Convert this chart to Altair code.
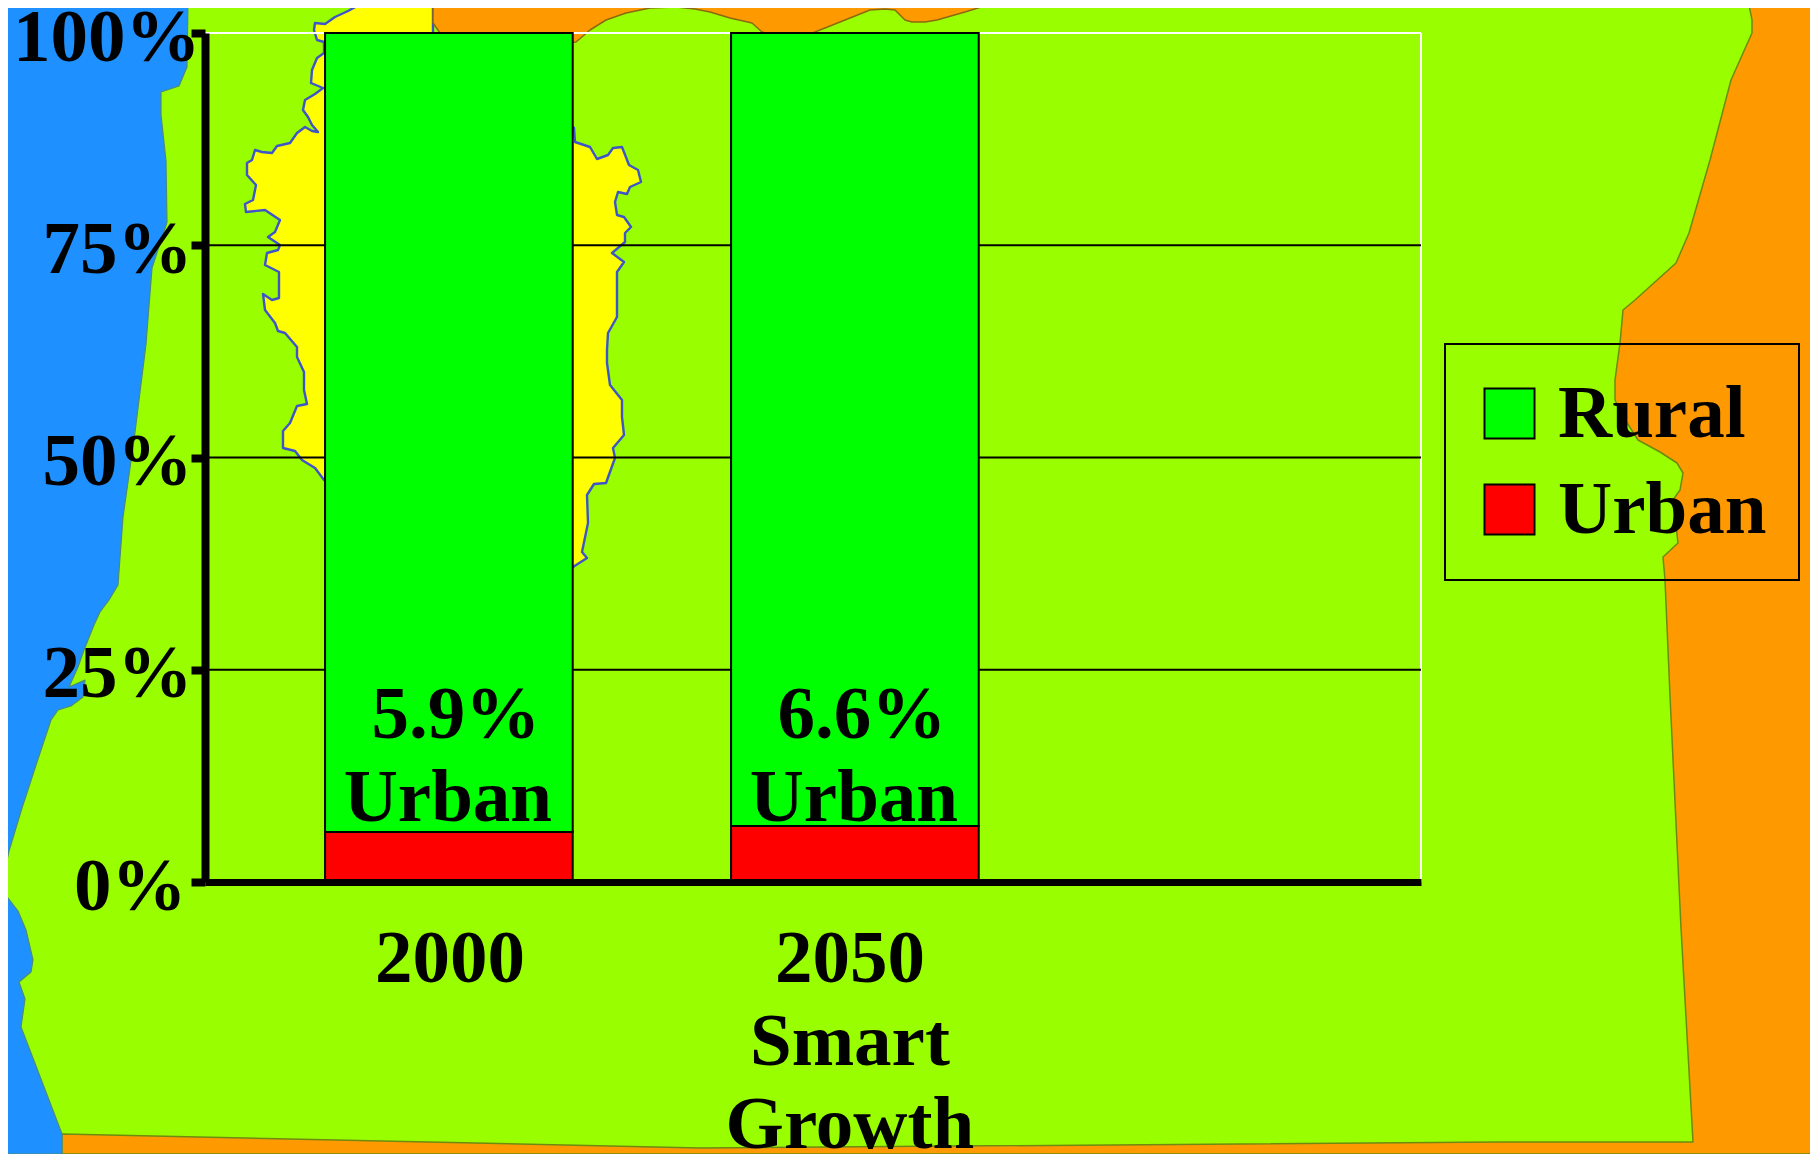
import altair as alt

FONT = "Liberation Serif"
periods = ["2000", "2050|Smart|Growth"]
rural = [94.1, 93.4]
urban = [5.9, 6.6]
pct_labels = ["5.9%", "6.6%"]
line_two = ["Urban", "Urban"]
ticks = [0, 25, 50, 75, 100]
grid_levels = [25, 50, 75]
sectors = ["Rural", "Urban"]
sector_colors = ["#00FF00", "#FF0000"]

sea = [[0,0],[188,0],[187,67],[179,86],[161,92],[161,115],[166,161],[167,222],[152,268],[146,344],[134,440],[123,517],
       [118,585],[109,600],[100,612],[94,625],[84,650],[78,667],[69,687],[85,680],[83,697],[71,706],[58,710],[51,720],
       [38,759],[22,808],[9,851],[3,880],[2,890],[8,898],[18,911],[26,930],[33,960],[31,972],[19,982],[25,999],
       [21,1027],[36,1066],[62,1134],[62,1154],[0,1154],[0,0]]
east = [[1748,0],[1752,20],[1752,33],[1731,80],[1710,160],[1689,233],[1676,263],[1635,300],[1623,310],[1620,343],
        [1615,380],[1615,400],[1622,415],[1638,440],[1660,452],[1677,463],[1683,473],[1680,490],[1673,500],[1678,543],
        [1663,557],[1665,580],[1670,696],[1681,928],[1693,1142],[1500,1142],[700,1148],[62,1134],[62,1154],[1818,1154],
        [1818,0],[1748,0]]
north = [[433,0],[433,23],[440,33],[500,50],[576,42],[590,30],[606,20],[626,13],[650,8],[676,7],[695,9],[710,12],
         [730,18],[752,23],[762,32],[790,40],[815,32],[850,18],[870,10],[885,9],[895,10],[905,20],[912,22],[925,22],
         [937,20],[965,12],[1004,0],[433,0]]
valley = [[368,0],[348,11],[335,17],[325,24],[315,23],[314,30],[317,40],[324,42],[324,53],[317,58],[312,70],[311,83],
          [323,88],[315,94],[305,100],[303,110],[308,117],[312,125],[318,132],[312,131],[305,127],[297,133],[290,143],
          [277,146],[272,153],[262,152],[255,150],[252,160],[247,163],[247,175],[256,185],[253,200],[245,204],[246,212],
          [265,210],[280,220],[275,232],[268,237],[280,245],[278,250],[267,253],[265,265],[279,272],[279,298],[272,300],
          [263,294],[265,310],[275,323],[278,331],[285,333],[297,347],[297,357],[304,372],[304,390],[307,404],[297,406],
          [290,423],[283,431],[283,448],[295,451],[302,460],[315,468],[324,480],[450,560],[573,567],[587,558],[582,552],
          [588,523],[587,495],[594,484],[606,483],[615,458],[613,448],[624,435],[622,417],[622,400],[610,385],[607,363],
          [607,350],[608,333],[617,317],[617,272],[624,262],[612,253],[625,242],[625,233],[631,227],[624,217],[617,215],
          [615,202],[618,192],[627,194],[630,187],[641,182],[638,170],[629,165],[622,147],[613,148],[608,155],[597,159],
          [590,147],[575,142],[574,128],[500,60],[433,33],[433,0],[368,0]]


def region(ring, fill, stroke, width):
    feature = {"type": "Feature", "properties": {}, "geometry": {"type": "Polygon", "coordinates": [ring]}}
    return alt.Chart(alt.Data(values=[feature])).mark_geoshape(
        fill=fill, stroke=stroke, strokeWidth=width, strokeJoin="round", clip=False
    ).project(type="identity", scale=1, translate=[-205, -33])


maps = [
    region(east, "#FF9900", "#6E8A10", 1.5),
    region(valley, "#FFFF00", "#3D55C8", 2.4),
    region(north, "#FF9900", "#8A6A10", 1.5),
    region(sea, "#1E90FF", "#4F8A70", 1.2),
]

yscale = alt.Scale(domain=[0, 100], nice=False)
xscale = alt.Scale(domain=periods, range=[0, 1216], paddingInner=0.39, paddingOuter=0.6925, align=0.2135)

y_axis = alt.Axis(
    values=ticks, grid=False, title=None, zindex=1, domainColor="black", domainWidth=8,
    tickColor="black", tickWidth=8, tickSize=14, labelFont=FONT, labelFontWeight="bold",
    labelFontSize=75, labelColor="black", labelExpr="datum.value + '%'", labelOffset=4, labelBound=False,
    labelFlush=False, labelOverlap=False, labelLimit=0,
    labelPadding={"condition": [{"test": "datum.value == 100", "value": -9},
                                {"test": "datum.value == 0", "value": 5}], "value": -1},
)
x_axis = alt.Axis(
    title=None, zindex=1, domainColor="black", domainWidth=7, ticks=False, labelAngle=0, labelFont=FONT,
    labelFontWeight="bold", labelFontSize=75, labelColor="black", labelAlign="center", labelBaseline="top",
    labelLineHeight=83, labelPadding=40, labelOverlap=False, labelBound=False, labelFlush=False,
    labelOffset={"condition": {"test": "datum.value == '2000'", "value": 1}, "value": -5},
    labelLimit=0, labelExpr="split(datum.value, '|')",
)

grid = alt.Chart(alt.Data(values=[{"pct": v} for v in grid_levels])).mark_rule(color="black", strokeWidth=2).encode(
    y=alt.Y("pct:Q", scale=yscale, axis=y_axis)
)
top_edge = alt.Chart(alt.Data(values=[{"pct": 100}])).mark_rule(color="white", strokeWidth=2).encode(
    y=alt.Y("pct:Q", scale=yscale, axis=y_axis)
)
right_edge = alt.Chart(alt.Data(values=[{"a": 1}])).mark_rule(color="white", strokeWidth=2).encode(x=alt.value(1216))

rows = []
for i, p in enumerate(periods):
    rows.append({"period": p, "sector": "Urban", "share": urban[i], "rank": 0})
    rows.append({"period": p, "sector": "Rural", "share": rural[i], "rank": 1})

bars = alt.Chart(alt.Data(values=rows)).mark_bar(stroke="black", strokeWidth=2, opacity=1).encode(
    x=alt.X("period:N", scale=xscale, sort=None, axis=x_axis),
    y=alt.Y("share:Q", stack="zero", scale=yscale, axis=y_axis),
    color=alt.Color(
        "sector:N",
        scale=alt.Scale(domain=sectors, range=sector_colors),
        legend=alt.Legend(
            title=None, orient="none", legendX=1240, legendY=311, padding=32, strokeColor="black",
            symbolType="square", symbolSize=2500, symbolStrokeColor="black", symbolStrokeWidth=2,
            symbolOpacity=1, symbolOffset=-5, labelFont=FONT, labelFontWeight="bold", labelFontSize=75,
            labelColor="black", labelLimit=400, labelOffset=11, rowPadding=20, values=sectors,
            labelExpr="datum.label + '\u00a0\u00a0'",
        ),
    ),
    order=alt.Order("rank:Q"),
)

labels = [{"period": p, "pct": pct_labels[i], "word": line_two[i]} for i, p in enumerate(periods)]
text_style = dict(font=FONT, fontWeight="bold", fontSize=75, color="black", align="center", baseline="alphabetic")
pct_text = alt.Chart(alt.Data(values=labels)).mark_text(dx=7, **text_style).encode(
    x=alt.X("period:N", scale=xscale, sort=None), y=alt.value(705), text="pct:N"
)
word_text = alt.Chart(alt.Data(values=labels)).mark_text(dx=-1, **text_style).encode(
    x=alt.X("period:N", scale=xscale, sort=None), y=alt.value(788), text="word:N"
)

chart = alt.layer(*maps, top_edge, right_edge, grid, bars, pct_text, word_text).properties(
    width=1216,
    height=849,
    padding={"left": 197, "top": 25, "right": 389, "bottom": 272},
    autosize=alt.AutoSizeParams(type="none"),
    background="#99FF00",
).configure_view(stroke=None).configure_legend(strokeWidth=2)

chart.save("out.html", embed_options={"renderer": "svg", "actions": False})
